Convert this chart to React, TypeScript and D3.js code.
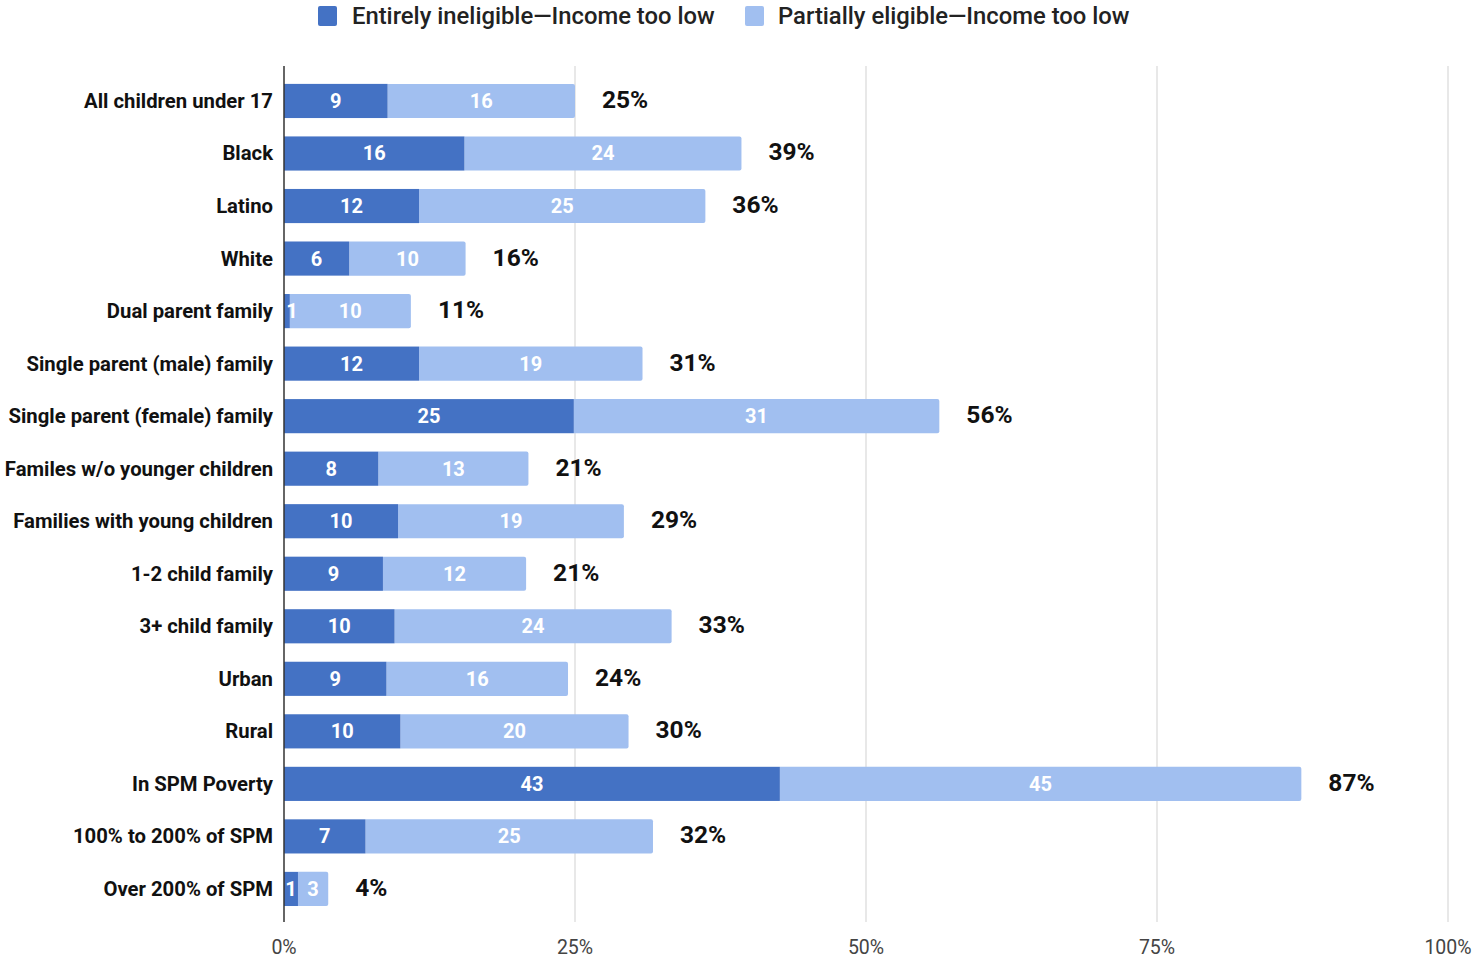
import React from "react";
import * as d3 from "d3";

const categories = [
  "All children under 17",
  "Black",
  "Latino",
  "White",
  "Dual parent family",
  "Single parent (male) family",
  "Single parent (female) family",
  "Familes w/o younger children",
  "Families with young children",
  "1-2 child family",
  "3+ child family",
  "Urban",
  "Rural",
  "In SPM Poverty",
  "100% to 200% of SPM",
  "Over 200% of SPM",
];
const entirelyIneligible = [8.9, 15.5, 11.6, 5.6, 0.5, 11.6, 24.9, 8.1, 9.8, 8.5, 9.5, 8.8, 10.0, 42.6, 7.0, 1.2];
const partiallyEligible = [16.1, 23.8, 24.6, 10.0, 10.4, 19.2, 31.4, 12.9, 19.4, 12.3, 23.8, 15.6, 19.6, 44.8, 24.7, 2.6];
const totalLabels = ["25%", "39%", "36%", "16%", "11%", "31%", "56%", "21%", "29%", "21%", "33%", "24%", "30%", "87%", "32%", "4%"];
const ticks = [0, 25, 50, 75, 100];
const seriesNames = ["Entirely ineligible—Income too low", "Partially eligible—Income too low"];

const DARK = "#4472c4";
const LIGHT = "#a1bff0";
const FONT = "Roboto, 'Noto Sans', sans-serif";

export default function App() {
  const width = 1474;
  const height = 957;
  const x = d3.scaleLinear().domain([0, 100]).range([284, 1448]);
  const y = d3
    .scaleBand<string>()
    .domain(categories)
    .range([74.7, 915.2])
    .paddingInner(0.35)
    .paddingOuter(0.175);
  const bw = y.bandwidth();

  return (
    <svg width={width} height={height} style={{ position: "absolute", left: 0, top: 0, background: "#fff" }} fontFamily={FONT}>
      {/* legend */}
      <g>
        <rect x={318} y={6} width={19} height={20} rx={2} fill={DARK} />
        <text x={352} y={24} fontSize={23.8} fontWeight={500} fill="#222">{seriesNames[0]}</text>
        <rect x={745} y={6} width={19} height={20} rx={2} fill={LIGHT} />
        <text x={778} y={24} fontSize={23.8} fontWeight={500} fill="#222">{seriesNames[1]}</text>
      </g>
      {/* gridlines */}
      {ticks.slice(1).map((t) => (
        <line key={t} x1={x(t)} x2={x(t)} y1={66} y2={922} stroke="#e0e0e0" strokeWidth={1.5} />
      ))}
      {/* tick labels */}
      {ticks.map((t) => (
        <text key={"tl" + t} x={x(t)} y={953.5} textAnchor="middle" fontSize={19.5} fill="#444">
          {t + "%"}
        </text>
      ))}
      {/* bars */}
      {categories.map((c, i) => {
        const y0 = y(c)!;
        const a = entirelyIneligible[i];
        const b = partiallyEligible[i];
        const xa = x(0);
        const xb = x(a);
        const xe = x(a + b);
        const cy = y0 + bw / 2;
        return (
          <g key={c}>
            <path
              d={`M${xb},${y0}H${xe - 2}Q${xe},${y0} ${xe},${y0 + 2}V${y0 + bw - 2}Q${xe},${y0 + bw} ${xe - 2},${y0 + bw}H${xb}Z`}
              fill={LIGHT}
            />
            <rect x={xa} y={y0} width={xb - xa} height={bw} fill={DARK} />
            <text x={(xa + xb) / 2 + (xb - xa < 10 ? 5 : 0)} y={cy + 7} textAnchor="middle" fontSize={20} fontWeight={700} fill="#fff">
              {Math.round(a) || 1}
            </text>
            <text x={(xb + xe) / 2} y={cy + 7} textAnchor="middle" fontSize={20} fontWeight={700} fill="#fff">
              {Math.round(b)}
            </text>
            <text x={xe + 27} y={cy + 7} fontSize={24.5} fontWeight={700} fill="#111">
              {totalLabels[i]}
            </text>
            <text x={273} y={cy + 7} textAnchor="end" fontSize={20.3} fontWeight={700} fill="#111">
              {c}
            </text>
          </g>
        );
      })}
      {/* zero axis */}
      <line x1={x(0)} x2={x(0)} y1={66} y2={922} stroke="#333" strokeWidth={1.5} />
    </svg>
  );
}
